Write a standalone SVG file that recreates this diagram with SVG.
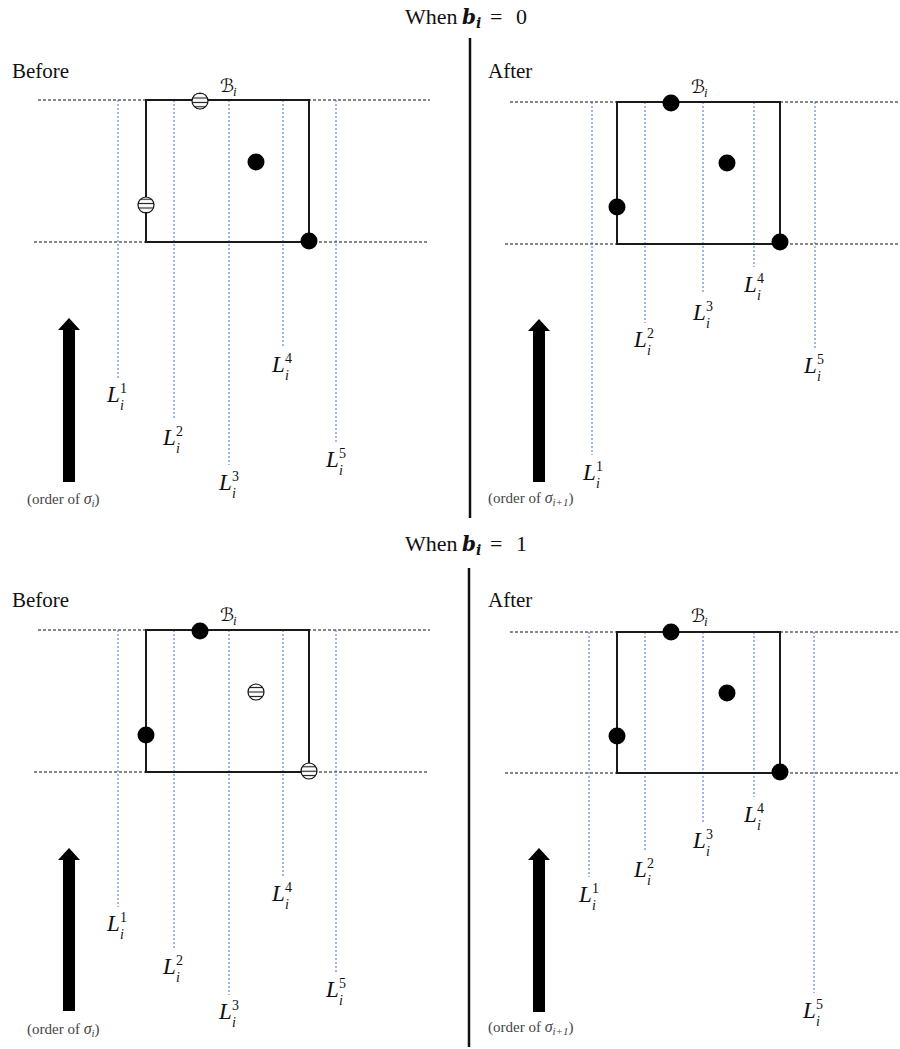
<svg xmlns="http://www.w3.org/2000/svg" width="900" height="1049" viewBox="0 0 900 1049">
<style>
  .title{font-family:"Liberation Serif",serif;font-size:22px;fill:#111}
  .mi{font-family:"DejaVu Serif",serif;font-style:italic;font-weight:bold}
  .panel{font-family:"Liberation Serif",serif;font-size:21px;fill:#111}
  .hd{stroke:#111;stroke-width:1;stroke-dasharray:3 2;fill:none}
  .vd{stroke:#3b72d9;stroke-width:1;stroke-dasharray:2 2;fill:none}
  .box{stroke:#1a1a1a;stroke-width:2;fill:none}
  .div{stroke:#111;stroke-width:2.5}
  .dot{fill:#000}
  .hat{fill:url(#hatch);stroke:#111;stroke-width:1.2}
  .L{font-family:"Liberation Serif",serif;font-style:italic;font-size:23px;fill:#111}
  .sup{font-style:normal;font-size:14px}
  .sub{font-style:italic;font-size:14px}
  .B{font-family:"DejaVu Serif","DejaVu Sans",serif;font-size:18px;fill:#111}
  .Bi{font-family:"Liberation Serif",serif;font-style:italic;font-size:13px}
  .ord{font-family:"Liberation Serif",serif;font-size:15px;fill:#444}
  .arrow{fill:#000}
</style>
<defs>
  <pattern id="hatch" patternUnits="userSpaceOnUse" width="20" height="4.4" y="-1">
    <rect width="20" height="4.4" fill="#fff"/>
    <line x1="0" y1="2.2" x2="20" y2="2.2" stroke="#111" stroke-width="1.1"/>
  </pattern>
</defs>

<g id="titles">
  <text class="title" x="405" y="24">When <tspan class="mi" x="462" font-size="20">b</tspan><tspan class="mi" font-size="14" dy="4">i</tspan><tspan x="490" dy="-4">=</tspan><tspan x="516">0</tspan></text>
  <text class="title" x="405" y="551">When <tspan class="mi" x="462" font-size="20">b</tspan><tspan class="mi" font-size="14" dy="4">i</tspan><tspan x="490" dy="-4">=</tspan><tspan x="516">1</tspan></text>
</g>

<g id="dividers">
  <line class="div" x1="470" y1="38" x2="470" y2="518"/>
  <line class="div" x1="469" y1="568" x2="469" y2="1047"/>
</g>

<!-- ===== TOP LEFT (Before, b_i = 0) ===== -->
<g id="top-before">
  <text class="panel" x="12" y="78">Before</text>
  <g id="tb-guides">
    <line class="hd" x1="38" y1="100" x2="430" y2="100"/>
    <line class="hd" x1="34" y1="242" x2="427" y2="242"/>
    <line class="vd" x1="118" y1="100" x2="118" y2="378"/>
    <line class="vd" x1="174" y1="100" x2="174" y2="420"/>
    <line class="vd" x1="229" y1="100" x2="229" y2="465"/>
    <line class="vd" x1="283" y1="100" x2="283" y2="348"/>
    <line class="vd" x1="336" y1="100" x2="336" y2="443"/>
  </g>
  <rect id="tb-box" class="box" x="146" y="100" width="163" height="142"/>
  <text id="tb-Blabel" class="B" x="220" y="92">ℬ<tspan class="Bi" x="233" dy="4">i</tspan></text>
  <circle id="tb-p1" class="hat" cx="200" cy="101" r="8"/>
  <circle id="tb-p2" class="hat" cx="146" cy="205" r="8"/>
  <circle id="tb-p3" class="dot" cx="256" cy="162" r="8.5"/>
  <circle id="tb-p4" class="dot" cx="309" cy="241" r="8.5"/>
  <text id="tb-L1" class="L" transform="translate(118,402)" x="-11" y="0">L<tspan class="sup" x="2" dy="-9">1</tspan><tspan class="sub" x="2" dy="17">i</tspan></text>
  <text id="tb-L2" class="L" transform="translate(174,445)" x="-11" y="0">L<tspan class="sup" x="2" dy="-9">2</tspan><tspan class="sub" x="2" dy="17">i</tspan></text>
  <text id="tb-L3" class="L" transform="translate(230,490)" x="-11" y="0">L<tspan class="sup" x="2" dy="-9">3</tspan><tspan class="sub" x="2" dy="17">i</tspan></text>
  <text id="tb-L4" class="L" transform="translate(283,372)" x="-11" y="0">L<tspan class="sup" x="2" dy="-9">4</tspan><tspan class="sub" x="2" dy="17">i</tspan></text>
  <text id="tb-L5" class="L" transform="translate(337,467)" x="-11" y="0">L<tspan class="sup" x="2" dy="-9">5</tspan><tspan class="sub" x="2" dy="17">i</tspan></text>
  <path id="tb-arrow" class="arrow" d="M63 482 L63 330 L58 330 L69 318 L80 330 L75 330 L75 482 Z"/>
  <text class="ord" x="27" y="504">(order of <tspan font-style="italic" font-size="16">σ</tspan><tspan font-style="italic" font-size="11" dy="3">i</tspan><tspan dy="-3">)</tspan></text>
</g>

<!-- ===== TOP RIGHT (After, b_i = 0) ===== -->
<g id="top-after">
  <text class="panel" x="488" y="78">After</text>
  <g id="ta-guides">
    <line class="hd" x1="510" y1="102" x2="900" y2="102"/>
    <line class="hd" x1="505" y1="244" x2="900" y2="244"/>
    <line class="vd" x1="592" y1="102" x2="592" y2="455"/>
    <line class="vd" x1="645" y1="102" x2="645" y2="323"/>
    <line class="vd" x1="703" y1="102" x2="703" y2="293"/>
    <line class="vd" x1="754" y1="102" x2="754" y2="267"/>
    <line class="vd" x1="815" y1="102" x2="815" y2="348"/>
  </g>
  <rect id="ta-box" class="box" x="617" y="102" width="163" height="142"/>
  <text id="ta-Blabel" class="B" x="691" y="93">ℬ<tspan class="Bi" x="704" dy="4">i</tspan></text>
  <circle id="ta-p1" class="dot" cx="671" cy="103" r="8.5"/>
  <circle id="ta-p2" class="dot" cx="617" cy="207" r="8.5"/>
  <circle id="ta-p3" class="dot" cx="727" cy="163" r="8.5"/>
  <circle id="ta-p4" class="dot" cx="780" cy="242" r="8.5"/>
  <text id="ta-L1" class="L" transform="translate(594,480)" x="-11" y="0">L<tspan class="sup" x="2" dy="-9">1</tspan><tspan class="sub" x="2" dy="17">i</tspan></text>
  <text id="ta-L2" class="L" transform="translate(645,347)" x="-11" y="0">L<tspan class="sup" x="2" dy="-9">2</tspan><tspan class="sub" x="2" dy="17">i</tspan></text>
  <text id="ta-L3" class="L" transform="translate(704,320)" x="-11" y="0">L<tspan class="sup" x="2" dy="-9">3</tspan><tspan class="sub" x="2" dy="17">i</tspan></text>
  <text id="ta-L4" class="L" transform="translate(755,292)" x="-11" y="0">L<tspan class="sup" x="2" dy="-9">4</tspan><tspan class="sub" x="2" dy="17">i</tspan></text>
  <text id="ta-L5" class="L" transform="translate(815,373)" x="-11" y="0">L<tspan class="sup" x="2" dy="-9">5</tspan><tspan class="sub" x="2" dy="17">i</tspan></text>
  <path id="ta-arrow" class="arrow" d="M533 482 L533 331 L528 331 L539 319 L550 331 L545 331 L545 482 Z"/>
  <text class="ord" x="488" y="503">(order of <tspan font-style="italic" font-size="16">σ</tspan><tspan font-style="italic" font-size="11" dy="3">i+1</tspan><tspan dy="-3">)</tspan></text>
</g>

<!-- ===== BOTTOM LEFT (Before, b_i = 1) ===== -->
<g id="bottom-before">
  <text class="panel" x="12" y="607">Before</text>
  <g id="bb-guides">
    <line class="hd" x1="38" y1="630" x2="430" y2="630"/>
    <line class="hd" x1="34" y1="772" x2="427" y2="772"/>
    <line class="vd" x1="118" y1="630" x2="118" y2="907"/>
    <line class="vd" x1="174" y1="630" x2="174" y2="950"/>
    <line class="vd" x1="229" y1="630" x2="229" y2="995"/>
    <line class="vd" x1="283" y1="630" x2="283" y2="877"/>
    <line class="vd" x1="336" y1="630" x2="336" y2="973"/>
  </g>
  <rect id="bb-box" class="box" x="146" y="630" width="163" height="142"/>
  <text id="bb-Blabel" class="B" x="220" y="621">ℬ<tspan class="Bi" x="233" dy="4">i</tspan></text>
  <circle id="bb-p1" class="dot" cx="200" cy="631" r="8.5"/>
  <circle id="bb-p2" class="dot" cx="146" cy="735" r="8.5"/>
  <circle id="bb-p3" class="hat" cx="256" cy="692" r="8"/>
  <circle id="bb-p4" class="hat" cx="309" cy="771" r="8"/>
  <text id="bb-L1" class="L" transform="translate(118,931)" x="-11" y="0">L<tspan class="sup" x="2" dy="-9">1</tspan><tspan class="sub" x="2" dy="17">i</tspan></text>
  <text id="bb-L2" class="L" transform="translate(174,974)" x="-11" y="0">L<tspan class="sup" x="2" dy="-9">2</tspan><tspan class="sub" x="2" dy="17">i</tspan></text>
  <text id="bb-L3" class="L" transform="translate(230,1019)" x="-11" y="0">L<tspan class="sup" x="2" dy="-9">3</tspan><tspan class="sub" x="2" dy="17">i</tspan></text>
  <text id="bb-L4" class="L" transform="translate(283,901)" x="-11" y="0">L<tspan class="sup" x="2" dy="-9">4</tspan><tspan class="sub" x="2" dy="17">i</tspan></text>
  <text id="bb-L5" class="L" transform="translate(337,997)" x="-11" y="0">L<tspan class="sup" x="2" dy="-9">5</tspan><tspan class="sub" x="2" dy="17">i</tspan></text>
  <path id="bb-arrow" class="arrow" d="M63 1011 L63 860 L58 860 L69 848 L80 860 L75 860 L75 1011 Z"/>
  <text class="ord" x="27" y="1034">(order of <tspan font-style="italic" font-size="16">σ</tspan><tspan font-style="italic" font-size="11" dy="3">i</tspan><tspan dy="-3">)</tspan></text>
</g>

<!-- ===== BOTTOM RIGHT (After, b_i = 1) ===== -->
<g id="bottom-after">
  <text class="panel" x="488" y="607">After</text>
  <g id="ba-guides">
    <line class="hd" x1="510" y1="632" x2="900" y2="632"/>
    <line class="hd" x1="505" y1="773" x2="900" y2="773"/>
    <line class="vd" x1="589" y1="632" x2="589" y2="877"/>
    <line class="vd" x1="645" y1="632" x2="645" y2="852"/>
    <line class="vd" x1="703" y1="632" x2="703" y2="823"/>
    <line class="vd" x1="754" y1="632" x2="754" y2="797"/>
    <line class="vd" x1="814" y1="632" x2="814" y2="993"/>
  </g>
  <rect id="ba-box" class="box" x="617" y="632" width="163" height="141"/>
  <text id="ba-Blabel" class="B" x="691" y="622">ℬ<tspan class="Bi" x="704" dy="4">i</tspan></text>
  <circle id="ba-p1" class="dot" cx="671" cy="632" r="8.5"/>
  <circle id="ba-p2" class="dot" cx="617" cy="736" r="8.5"/>
  <circle id="ba-p3" class="dot" cx="727" cy="693" r="8.5"/>
  <circle id="ba-p4" class="dot" cx="780" cy="772" r="8.5"/>
  <text id="ba-L1" class="L" transform="translate(590,902)" x="-11" y="0">L<tspan class="sup" x="2" dy="-9">1</tspan><tspan class="sub" x="2" dy="17">i</tspan></text>
  <text id="ba-L2" class="L" transform="translate(645,877)" x="-11" y="0">L<tspan class="sup" x="2" dy="-9">2</tspan><tspan class="sub" x="2" dy="17">i</tspan></text>
  <text id="ba-L3" class="L" transform="translate(704,848)" x="-11" y="0">L<tspan class="sup" x="2" dy="-9">3</tspan><tspan class="sub" x="2" dy="17">i</tspan></text>
  <text id="ba-L4" class="L" transform="translate(755,822)" x="-11" y="0">L<tspan class="sup" x="2" dy="-9">4</tspan><tspan class="sub" x="2" dy="17">i</tspan></text>
  <text id="ba-L5" class="L" transform="translate(814,1018)" x="-11" y="0">L<tspan class="sup" x="2" dy="-9">5</tspan><tspan class="sub" x="2" dy="17">i</tspan></text>
  <path id="ba-arrow" class="arrow" d="M533 1012 L533 860 L528 860 L539 848 L550 860 L545 860 L545 1012 Z"/>
  <text class="ord" x="488" y="1032">(order of <tspan font-style="italic" font-size="16">σ</tspan><tspan font-style="italic" font-size="11" dy="3">i+1</tspan><tspan dy="-3">)</tspan></text>
</g>
</svg>
